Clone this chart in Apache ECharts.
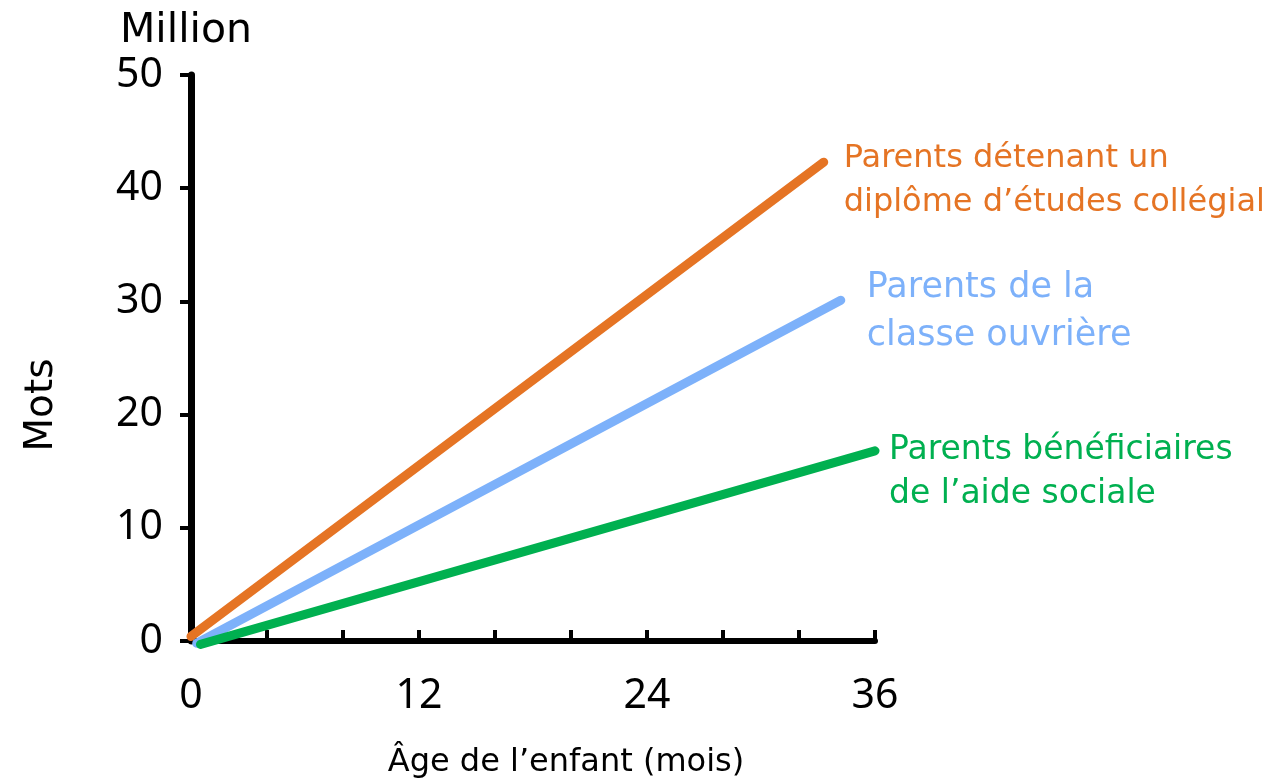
<!DOCTYPE html>
<html>
<head>
<meta charset="utf-8">
<script src="https://cdn.jsdelivr.net/npm/echarts@6/dist/echarts.min.js"></script>
<style>
  html, body { margin: 0; padding: 0; background: #ffffff; }
  #chart { width: 1280px; height: 780px; }
</style>
</head>
<body>
<div id="chart"></div>
<script>
// Cumulative words heard (millions) by child's age (months)
const xTicks = [0, 12, 24, 36];
const yTicks = [0, 10, 20, 30, 40, 50];

const collegeLine = [[0, 0.4], [33.3, 42.3]];
const workingLine = [[0.3, -0.2], [34.2, 30.1]];
const welfareLine = [[0.5, -0.3], [36, 16.8]];

const collegeName = 'Parents détenant un\ndiplôme d’études collégial';
const workingName = 'Parents de la\nclasse ouvrière';
const welfareName = 'Parents bénéficiaires\nde l’aide sociale';

const NUM_FONT = '"Noto Sans", sans-serif';
const TEXT_FONT = '"DejaVu Sans", sans-serif';

function lineSeries(name, data, color, labelOffset, fontSize, lineHeight) {
  return {
    type: 'line',
    name: name,
    data: data,
    showSymbol: false,
    clip: false,
    silent: true,
    lineStyle: { color: color, width: 9, cap: 'round' },
    endLabel: {
      show: true,
      formatter: name,
      color: color,
      fontFamily: TEXT_FONT,
      fontSize: fontSize,
      lineHeight: lineHeight,
      distance: 0,
      offset: labelOffset,
      align: 'left'
    }
  };
}

const chart = echarts.init(document.getElementById('chart'));
chart.setOption({
  animation: false,
  backgroundColor: '#ffffff',
  grid: { left: 191, top: 75, width: 684, height: 566 },
  xAxis: {
    type: 'value',
    min: 0,
    max: 36,
    interval: 4,
    axisLine: { show: true, lineStyle: { color: '#000', width: 6, cap: 'round' } },
    axisTick: { show: true, inside: true, length: 11, lineStyle: { color: '#000', width: 4 } },
    axisLabel: {
      margin: 35,
      fontFamily: NUM_FONT,
      fontSize: 41,
      color: '#000',
      formatter: v => xTicks.includes(v) ? String(v) : ''
    },
    splitLine: { show: false }
  },
  yAxis: {
    type: 'value',
    min: 0,
    max: 50,
    interval: 10,
    axisLine: { show: true, lineStyle: { color: '#000', width: 7, cap: 'round' } },
    axisTick: { show: true, inside: false, length: 11, lineStyle: { color: '#000', width: 4 } },
    axisLabel: {
      margin: 28,
      fontFamily: NUM_FONT,
      fontSize: 41,
      color: '#000',
      formatter: v => yTicks.includes(v) ? String(v) : ''
    },
    splitLine: { show: false }
  },
  graphic: [{
    type: 'text',
    x: 186,
    y: 31,
    style: { text: 'Million', fontFamily: TEXT_FONT, fontSize: 41, fill: '#000', align: 'center', verticalAlign: 'middle' }
  }, {
    type: 'text',
    x: 42,
    y: 405,
    rotation: Math.PI / 2,
    style: { text: 'Mots', fontFamily: TEXT_FONT, fontSize: 39, fill: '#000', align: 'center', verticalAlign: 'middle' }
  }, {
    type: 'text',
    x: 566,
    y: 763,
    style: { text: 'Âge de l’enfant (mois)', fontFamily: TEXT_FONT, fontSize: 32, fill: '#000', align: 'center', verticalAlign: 'middle' }
  }],
  series: [
    lineSeries(collegeName, collegeLine, '#E57424', [20, 19], 32, 44),
    lineSeries(workingName, workingLine, '#7DB1FA', [26, 12], 35, 48),
    lineSeries(welfareName, welfareLine, '#00B050', [14, 22], 33, 44)
  ]
});
</script>
</body>
</html>
